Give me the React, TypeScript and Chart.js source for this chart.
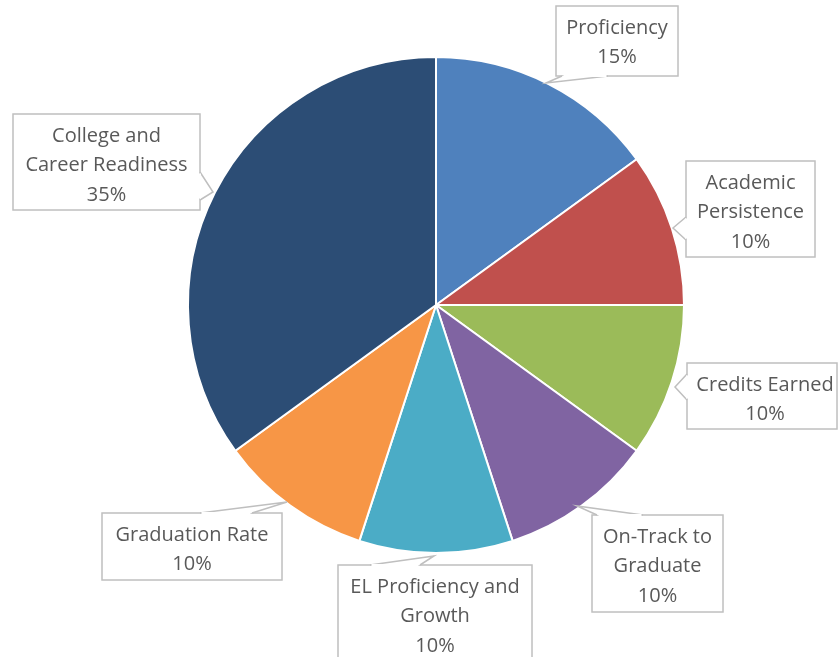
import React, { useEffect, useRef } from "react";
import { Chart, registerables } from "chart.js";

Chart.register(...registerables);

const categories: string[][] = [
  ["Proficiency"],
  ["Academic", "Persistence"],
  ["Credits Earned"],
  ["On-Track to", "Graduate"],
  ["EL Proficiency and", "Growth"],
  ["Graduation Rate"],
  ["College and", "Career Readiness"],
];
const values: number[] = [15, 10, 10, 10, 10, 10, 35];
const colors: string[] = ["#4F81BD", "#C0504D", "#9BBB59", "#8064A2", "#4BACC6", "#F79646", "#2C4D75"];

// callout layout: box rect, pointer base (two points on box edge), tip
type Callout = { x: number; y: number; w: number; h: number; b1: [number, number]; b2: [number, number]; tip: [number, number] };
const callouts: Callout[] = [
  { x: 556, y: 6, w: 122, h: 70, b1: [562, 76], b2: [608, 76], tip: [546, 83] },
  { x: 686, y: 161, w: 129, h: 96, b1: [686, 217], b2: [686, 240], tip: [673, 228] },
  { x: 687, y: 363, w: 150, h: 66, b1: [687, 374], b2: [687, 400], tip: [675, 387] },
  { x: 592, y: 515, w: 131, h: 97, b1: [597, 515], b2: [643, 515], tip: [577, 506] },
  { x: 338, y: 565, w: 194, h: 100, b1: [370, 565], b2: [420, 565], tip: [434, 556] },
  { x: 102, y: 513, w: 180, h: 67, b1: [200, 513], b2: [252, 513], tip: [287, 502] },
  { x: 13, y: 114, w: 187, h: 96, b1: [200, 172], b2: [200, 200], tip: [213, 192] },
];

const FONT = "20px 'Open Sans', 'Liberation Sans', sans-serif";

const calloutPlugin = {
  id: "callouts",
  afterDraw(chart: any) {
    const ctx = chart.ctx as CanvasRenderingContext2D;
    ctx.save();
    categories.forEach((lines, i) => {
      const c = callouts[i];
      ctx.fillStyle = "#FFFFFF";
      ctx.strokeStyle = "#BFBFBF";
      ctx.lineWidth = 1.5;
      ctx.fillRect(c.x, c.y, c.w, c.h);
      ctx.strokeRect(c.x, c.y, c.w, c.h);
      ctx.beginPath();
      ctx.moveTo(c.b1[0], c.b1[1]);
      ctx.lineTo(c.tip[0], c.tip[1]);
      ctx.lineTo(c.b2[0], c.b2[1]);
      ctx.closePath();
      ctx.fill();
      ctx.beginPath();
      ctx.moveTo(c.b1[0], c.b1[1]);
      ctx.lineTo(c.tip[0], c.tip[1]);
      ctx.lineTo(c.b2[0], c.b2[1]);
      ctx.stroke();
      ctx.strokeStyle = "#FFFFFF";
      ctx.lineWidth = 2;
      ctx.beginPath();
      const dx = c.b2[0] - c.b1[0], dy = c.b2[1] - c.b1[1];
      const len = Math.hypot(dx, dy);
      const ux = dx / len, uy = dy / len;
      ctx.moveTo(c.b1[0] + ux * 1.5, c.b1[1] + uy * 1.5);
      ctx.lineTo(c.b2[0] - ux * 1.5, c.b2[1] - uy * 1.5);
      ctx.stroke();
      const all = [...lines, values[i] + "%"];
      ctx.fillStyle = "#595959";
      ctx.font = FONT;
      ctx.textAlign = "center";
      ctx.textBaseline = "middle";
      const lh = 29.5;
      const cx = c.x + c.w / 2 + (i === 2 ? 3 : 0);
      const startY = c.y + 22;
      all.forEach((t, k) => ctx.fillText(t, cx, startY + k * lh));
    });
    ctx.restore();
  },
};

export default function App() {
  const ref = useRef<HTMLCanvasElement>(null);
  useEffect(() => {
    document.body.style.margin = "0";
    const chart = new Chart(ref.current!, {
      type: "pie",
      data: {
        labels: categories.map((l) => l.join(" ")),
        datasets: [
          {
            data: values,
            backgroundColor: colors,
            borderColor: "#FFFFFF",
            borderWidth: 2,
          },
        ],
      },
      options: {
        responsive: false,
        animation: false,
        layout: { padding: { top: 56, bottom: 103, left: 187, right: 153 } },
        plugins: { legend: { display: false }, tooltip: { enabled: false } },
      },
      plugins: [calloutPlugin],
    });
    return () => chart.destroy();
  }, []);
  return <canvas ref={ref} width={838} height={657} style={{ display: "block" }} />;
}
